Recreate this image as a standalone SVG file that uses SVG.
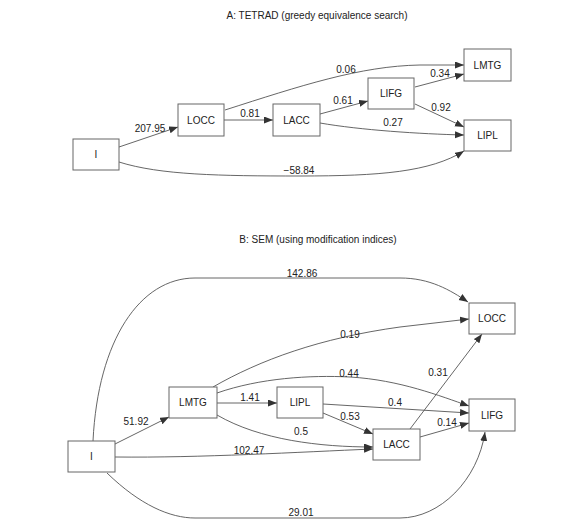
<svg xmlns="http://www.w3.org/2000/svg" width="563" height="529" viewBox="0 0 563 529">
<style>
text{font-family:"Liberation Sans",Arial,sans-serif;font-size:10px;fill:#222;text-anchor:middle}
.node rect{fill:#fff;stroke:#666;stroke-width:1}
.edges path{fill:none;stroke:#555;stroke-width:0.9;marker-end:url(#ah)}
</style>
<defs>
<marker id="ah" markerUnits="userSpaceOnUse" markerWidth="10" markerHeight="8" refX="9" refY="3.5" orient="auto">
<path d="M0,0 L9,3.5 L0,7 z" fill="#333"/>
</marker>
</defs>
<rect width="563" height="529" fill="#fff"/>
<text x="317" y="19">A: TETRAD (greedy equivalence search)</text>
<text x="318" y="243">B: SEM (using modification indices)</text>

<g class="edges" id="edges-a">
<path d="M119,147 L178,127"/>
<path d="M224,120 L273,120"/>
<path d="M225,110 C300,86 360,66 420,65 L464,65"/>
<path d="M320,114 L368,101"/>
<path d="M320,123 C360,130 420,134 464,135"/>
<path d="M415,87 L464,74"/>
<path d="M415,104 L464,127"/>
<path d="M119,162 C160,175 220,176 300,176 C380,176 430,172 464,151"/>
</g>
<g class="edges" id="edges-b">
<path d="M93,441 C98,340 140,278 195,278 L400,278 C430,278 450,290 468,302"/>
<path d="M213,387 C260,360 320,338 400,327 L469,319"/>
<path d="M410,429 L482,334"/>
<path d="M217,393 C260,378 310,375 350,377 C400,380 440,396 469,406"/>
<path d="M115,444 L169,417"/>
<path d="M217,403 L277,403"/>
<path d="M217,415 C260,440 320,447 373,447"/>
<path d="M323,413 L373,434"/>
<path d="M323,404 L469,413"/>
<path d="M420,437 L469,423"/>
<path d="M115,457 C200,458 300,452 373,449"/>
<path d="M107,473 C140,505 170,518 195,518 L400,518 C440,518 478,480 485,432"/>
</g>

<g id="labels-a">
<text x="150" y="131.5">207.95</text>
<text x="250" y="117">0.81</text>
<text x="346" y="73">0.06</text>
<text x="343" y="104">0.61</text>
<text x="393" y="126">0.27</text>
<text x="440" y="77">0.34</text>
<text x="441" y="111">0.92</text>
<text x="299" y="174">−58.84</text>
</g>
<g id="labels-b">
<text x="302" y="277">142.86</text>
<text x="350" y="338">0.19</text>
<text x="438" y="376">0.31</text>
<text x="349" y="377">0.44</text>
<text x="136" y="425">51.92</text>
<text x="250" y="401">1.41</text>
<text x="350" y="420">0.53</text>
<text x="395" y="406">0.4</text>
<text x="301" y="435">0.5</text>
<text x="447" y="426">0.14</text>
<text x="249" y="454">102.47</text>
<text x="301" y="516">29.01</text>
</g>

<g class="node" id="a-I"><rect x="73" y="139" width="46" height="31"/><text x="96" y="158">I</text></g>
<g class="node" id="a-LOCC"><rect x="178" y="104" width="46" height="32"/><text x="201" y="123.5">LOCC</text></g>
<g class="node" id="a-LACC"><rect x="273" y="104" width="47" height="32"/><text x="296.5" y="123.5">LACC</text></g>
<g class="node" id="a-LIFG"><rect x="368" y="78" width="46" height="31"/><text x="391" y="97">LIFG</text></g>
<g class="node" id="a-LMTG"><rect x="464" y="49" width="47" height="32"/><text x="487.5" y="68.5">LMTG</text></g>
<g class="node" id="a-LIPL"><rect x="464" y="120" width="47" height="31"/><text x="487.5" y="139">LIPL</text></g>

<g class="node" id="b-LOCC"><rect x="469" y="303" width="46" height="31"/><text x="492" y="322">LOCC</text></g>
<g class="node" id="b-LMTG"><rect x="169" y="387" width="48" height="31"/><text x="193" y="406">LMTG</text></g>
<g class="node" id="b-LIPL"><rect x="277" y="387" width="46" height="31"/><text x="300" y="406">LIPL</text></g>
<g class="node" id="b-LIFG"><rect x="469" y="399" width="46" height="32"/><text x="492" y="418.5">LIFG</text></g>
<g class="node" id="b-LACC"><rect x="373" y="429" width="47" height="31"/><text x="396.5" y="448">LACC</text></g>
<g class="node" id="b-I"><rect x="68" y="441" width="47" height="31"/><text x="91.5" y="460">I</text></g>
</svg>
